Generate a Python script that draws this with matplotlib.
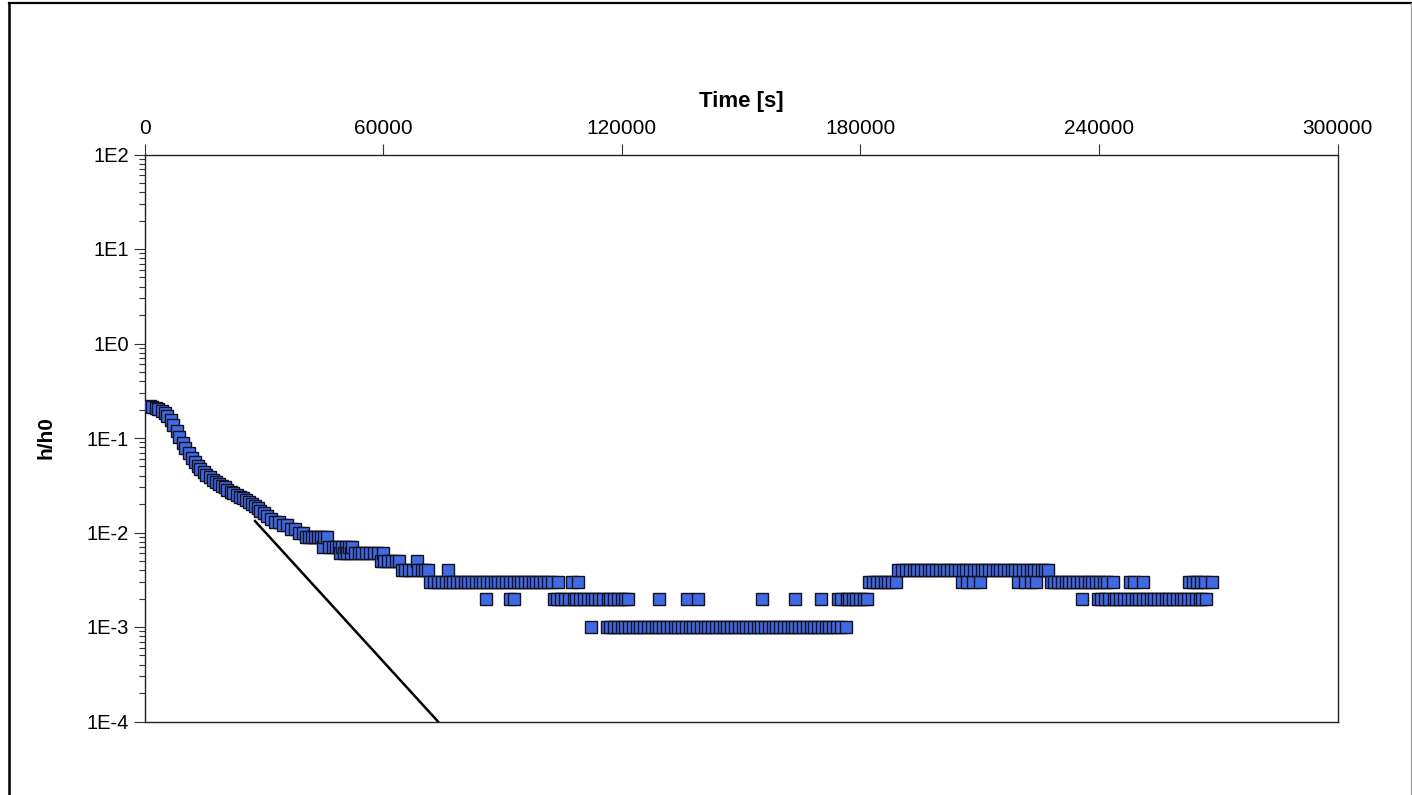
import numpy as np
import matplotlib
matplotlib.use("Agg")
import matplotlib.pyplot as plt
from matplotlib.ticker import LogLocator, FuncFormatter, NullFormatter
from matplotlib.lines import Line2D

plt.rcParams['font.family'] = ['Liberation Sans', 'DejaVu Sans']

# early decay (time in ks, h/h0)
t_decay = [1.26, 2.01, 2.77, 3.52, 4.28, 5.03, 5.78, 6.54, 7.29,
           8.05, 8.80, 9.56, 10.31, 11.07, 11.82, 12.58, 13.33, 14.08,
           14.84, 15.59, 16.35, 17.10, 17.86, 18.61, 19.37,
           20.12, 20.87, 21.63, 22.38, 23.14, 23.89, 24.65, 25.40, 26.16, 26.91,
           27.67, 28.42, 29.17, 29.93, 30.68,
           31.69, 32.70, 33.70, 34.71, 35.71, 36.72, 37.73, 38.73, 39.74]
h_decay = [0.217, 0.212, 0.207, 0.202, 0.192, 0.183, 0.170, 0.154, 0.137,
           0.118, 0.102, 0.088, 0.078, 0.069, 0.061, 0.056, 0.050, 0.047,
           0.044, 0.041, 0.039, 0.036, 0.034, 0.033, 0.031,
           0.030, 0.028, 0.027, 0.026, 0.025, 0.024, 0.023, 0.022, 0.021, 0.020,
           0.019, 0.018, 0.017, 0.016, 0.015,
           0.014, 0.013, 0.013, 0.012, 0.012, 0.011, 0.011, 0.010, 0.010]

# later readings sit on discrete levels (times in ks)
t_009 = [40.5, 41.3, 42.1, 42.9, 43.7, 44.4, 45.1, 45.8]
t_007 = [44.9, 46.5, 47.3, 48.1, 48.9, 49.7, 50.6, 51.4, 52.3]
t_006 = [49.2, 50.1, 51.0, 52.0, 52.9, 53.9, 54.8, 55.8, 56.7, 57.7, 58.7, 59.9]
t_005 = [59.4, 60.3, 61.3, 62.2, 63.2, 64.1, 68.4]
t_004 = [64.7, 65.6, 66.6, 67.5, 68.9, 69.8, 70.6, 71.4, 76.2,
         189.6, 190.5, 191.5, 192.4, 193.4, 194.3, 195.3, 196.2, 197.2, 198.1,
         199.1, 200.0, 201.0, 201.9, 202.9, 203.8, 204.8, 205.7, 206.7, 207.6,
         208.6, 209.5, 210.5, 211.4, 212.4, 213.3, 214.3, 215.2, 216.2, 217.1,
         218.1, 219.0, 220.0, 220.9, 221.9, 222.8, 223.8, 224.7, 225.7, 226.4, 227.1]
t_003 = [71.9, 72.8, 73.8, 74.7, 75.7, 76.7, 77.6, 78.6, 79.5, 80.5, 81.4,
         82.4, 83.3, 84.3, 85.2, 86.2, 87.1, 88.1, 89.0, 90.0, 90.9, 91.9,
         92.8, 93.8, 94.7, 95.7, 96.6, 97.6, 98.5, 99.5, 100.4, 101.4, 102.4,
         103.9, 107.6, 108.9,
         182.3, 183.2, 184.2, 185.1, 186.1, 187.0, 188.0, 188.9,
         205.5, 206.9, 208.3, 210.0, 219.6, 221.3, 223.0, 224.3,
         227.9, 228.8, 229.8, 230.7, 231.7, 232.6, 233.6, 234.5, 235.5, 236.4,
         237.4, 238.3, 239.3, 240.2, 241.2, 242.1, 243.5,
         247.9, 248.8, 251.0, 262.6, 263.6, 264.6, 265.6, 266.6, 268.4]
t_002 = [85.8, 91.8, 92.8,
         102.9, 103.8, 104.8, 105.7, 106.7, 107.9, 108.6, 109.5, 110.5, 111.4,
         112.6, 113.3, 114.3, 115.2, 116.6, 117.1, 118.1, 119.0, 120.0, 120.9, 121.7,
         129.5, 136.5, 139.3, 155.4, 163.7, 170.0,
         174.3, 175.2, 176.7, 177.1, 178.1, 179.0, 180.0, 180.9, 181.6,
         235.7, 239.8, 240.6, 241.6, 242.5, 243.9, 244.4, 245.4, 246.3, 247.3,
         248.2, 249.4, 250.1, 251.1, 252.0, 253.0, 253.9, 254.9, 255.8, 256.8,
         257.7, 258.7, 259.6, 260.6, 261.5, 262.5, 263.4, 264.4, 265.3, 266.0, 266.9]
t_001 = [112.2, 116.2, 117.1, 118.1, 119.0, 120.0, 120.9, 121.9, 122.8, 123.8,
         124.7, 125.7, 126.6, 127.6, 128.5, 129.5, 130.4, 131.4, 132.3, 133.3,
         134.2, 135.2, 136.1, 137.1, 138.0, 139.0, 139.9, 140.9, 141.8, 142.8,
         143.7, 144.7, 145.6, 146.6, 147.5, 148.5, 149.4, 150.4, 151.3, 152.3,
         153.2, 154.2, 155.1, 156.1, 157.0, 158.0, 158.9, 159.9, 160.8, 161.8,
         162.7, 163.7, 164.6, 165.6, 166.5, 167.5, 168.4, 169.4, 170.3, 171.3,
         172.2, 173.2, 174.1, 175.1, 176.3]

# straight-line fit drawn over the early part
fit_t = [27.8, 73.8]
fit_h = [0.0132, 1e-4]

x_ticks = [0, 60000, 120000, 180000, 240000, 300000]

levels = [(t_009, 0.009), (t_007, 0.007), (t_006, 0.006), (t_005, 0.005),
          (t_004, 0.004), (t_003, 0.003), (t_002, 0.002), (t_001, 0.001)]
t_all = np.concatenate([t_decay] + [t for t, _ in levels]) * 1000
h_all = np.concatenate([h_decay] + [np.full(len(t), v) for t, v in levels])
order = np.argsort(t_all)

W, H = 1412, 795
fig = plt.figure(figsize=(W / 100, H / 100), dpi=100)
ax = fig.add_axes([144.5 / W, 1 - 721.5 / H, 1193 / W, 567 / H])

ax.plot(np.array(fit_t) * 1000, fit_h, color='black', lw=1.8, zorder=2)
ax.plot(t_all[order], h_all[order], ls='none', marker='s', ms=8.3,
        mfc='#4169e1', mec='#111122', mew=1.0, zorder=3)

ax.set_yscale('log')
ax.set_ylim(1e-4, 1e2)
ax.set_xlim(0, 300000)

ax.xaxis.tick_top()
ax.xaxis.set_label_position('top')
ax.set_xticks(x_ticks)
ax.set_xticklabels([str(v) for v in x_ticks])
ax.tick_params(axis='x', which='major', direction='out', length=8, width=0.8,
               color='#333333', labelsize=15, pad=4)
ax.xaxis.get_offset_text().set_visible(False)
ax.yaxis.get_offset_text().set_visible(False)

ax.yaxis.set_major_locator(LogLocator(base=10, numticks=10))
ax.yaxis.set_minor_locator(LogLocator(base=10, subs=np.arange(2, 10), numticks=10))
ax.yaxis.set_major_formatter(FuncFormatter(lambda v, p: "1E%d" % int(round(np.log10(v)))))
ax.yaxis.set_minor_formatter(NullFormatter())
ax.tick_params(axis='y', which='major', direction='out', length=8, width=0.8,
               color='#333333', labelsize=14.5, pad=3)
ax.tick_params(axis='y', which='minor', direction='out', length=4, width=0.8,
               color='#333333')

for s in ax.spines.values():
    s.set_linewidth(1.0)
    s.set_color('#222222')

ax.set_xlabel('Time [s]', fontweight='bold', fontsize=16)
ax.xaxis.set_label_coords(0.5, 1.083)
ax.set_ylabel('h/h0', fontweight='bold', fontsize=15)
ax.yaxis.set_label_coords(-0.075, 0.5)

# outer frame of the page (cut off at the bottom)
fig.add_artist(Line2D([9 / W, 9 / W], [0, 1 - 2.5 / H], color='black', lw=1.8))
fig.add_artist(Line2D([9 / W, 1411 / W], [1 - 2.5 / H, 1 - 2.5 / H], color='black', lw=1.6))
fig.add_artist(Line2D([1411 / W, 1411 / W], [0, 1 - 2.5 / H], color='#999999', lw=0.8))

fig.savefig('out.png', dpi=100)
